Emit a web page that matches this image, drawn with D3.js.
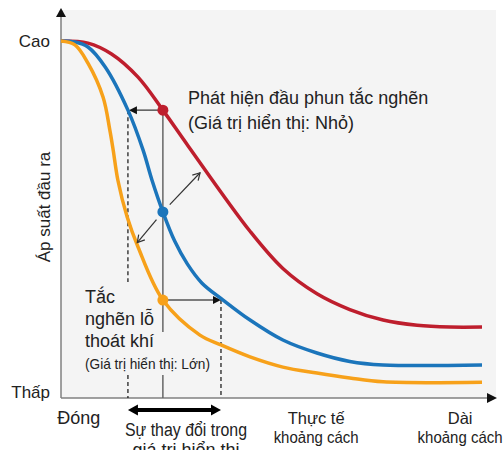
<!DOCTYPE html>
<html>
<head>
<meta charset="utf-8">
<title></title>
<style>
    body { margin: 0; background: #fff; }
    svg text { font-family: "Liberation Sans", Arial, sans-serif; fill: #222; }
</style>
</head>
<body>
<script src="https://cdnjs.cloudflare.com/ajax/libs/d3/7.8.5/d3.min.js"></script>
<script>

var w = 504;
var h = 450;

// curves: distance (0 = closed, 100 = long) vs output pressure (0 = low, 100 = high)
var redX    = [0, 6.4, 12.0, 18.3, 24.2, 30.2, 44.9, 52.7, 60.8, 68.6, 76.5, 84.6, 92.4, 100];
var redY    = [100, 99.4, 96.3, 89.7, 80.3, 70.1, 45.8, 35.2, 28.0, 23.5, 20.5, 19.0, 18.5, 18.5];
var blueX   = [0, 3.3, 6.4, 10.5, 15.9, 19.5, 21.6, 24.2, 27.0, 30.0, 33.5, 38.5, 44.9, 52.7, 60.8, 68.6, 76.5, 100];
var blueY   = [100, 99.7, 98.3, 92.6, 80.3, 68.9, 60.4, 51.3, 43.0, 36.5, 31.0, 26.2, 20.5, 14.8, 11.1, 8.7, 7.7, 7.7];
var orangeX = [0, 3.3, 6.4, 10.0, 11.6, 12.4, 13.5, 15.7, 18.3, 24.2, 33.0, 38.0, 44.9, 52.7, 60.8, 68.6, 76.5, 100];
var orangeY = [100, 98.9, 93.7, 84.0, 74.6, 68.9, 60.4, 49.9, 41.3, 26.2, 16.2, 13.4, 10.0, 7.1, 5.4, 4.0, 2.9, 2.8];

var markerX = 24.2;   // actual distance
var leftX = 15.9;     // blue reaches red's reading
var rightX = 38.0;    // blue reaches orange's reading

var yTickValues = [0, 100];
var yTickLabels = ["Thấp", "Cao"];
var xTickValues = [4.2, 60.6, 94.8];
var xTickLabels = [["Đóng"], ["Thực tế", "khoảng cách"], ["Dài", "khoảng cách"]];

var colors = { red: "#be1e2d", blue: "#1b75bb", orange: "#f7a11a" };

var xScale = d3.scaleLinear().domain([0, 100]).range([61, 482]);
var yScale = d3.scaleLinear().domain([0, 100]).range([392, 41]);

var svg = d3.select("body").append("svg")
    .attr("width", w)
    .attr("height", h);

// plot background
svg.append("rect")
    .attr("x", 61).attr("y", 10)
    .attr("width", 435).attr("height", 388)
    .attr("fill", "#f4f4f4");

// axes
svg.append("line")
    .attr("x1", 61).attr("y1", 398).attr("x2", 61).attr("y2", 14)
    .attr("stroke", "#808080").attr("stroke-width", 1.5);
svg.append("path")
    .attr("d", "M61,8 L66,17 L56,17 Z")
    .attr("fill", "#111");
svg.append("line")
    .attr("x1", 61).attr("y1", 398).attr("x2", 490).attr("y2", 398)
    .attr("stroke", "#808080").attr("stroke-width", 1.5);
svg.append("path")
    .attr("d", "M497,398 L487,393 L487,403 Z")
    .attr("fill", "#111");

// guide lines (gaps where the label block sits)
var guide = svg.append("g");
guide.append("line")
    .attr("x1", xScale(markerX)).attr("x2", xScale(markerX))
    .attr("y1", yScale(80.3)).attr("y2", 332)
    .attr("stroke", "#666").attr("stroke-width", 1.5);
guide.append("line")
    .attr("x1", xScale(markerX)).attr("x2", xScale(markerX))
    .attr("y1", 375).attr("y2", 398)
    .attr("stroke", "#666").attr("stroke-width", 1.5);

[[yScale(80.3), 282], [375, 398]].forEach(function(seg) {
    guide.append("line")
        .attr("x1", xScale(leftX)).attr("x2", xScale(leftX))
        .attr("y1", seg[0]).attr("y2", seg[1])
        .attr("stroke", "#111").attr("stroke-width", 1.2)
        .attr("stroke-dasharray", "4,3");
});
guide.append("line")
    .attr("x1", xScale(rightX)).attr("x2", xScale(rightX))
    .attr("y1", yScale(26.2)).attr("y2", 398)
    .attr("stroke", "#111").attr("stroke-width", 1.2)
    .attr("stroke-dasharray", "4,3");

// horizontal arrows
function hArrow(x1, x2, y) {
    var dir = x2 > x1 ? 1 : -1;
    guide.append("line")
        .attr("x1", x1).attr("x2", x2 - dir * 6).attr("y1", y).attr("y2", y)
        .attr("stroke", "#555").attr("stroke-width", 1.5);
    guide.append("path")
        .attr("d", "M" + x2 + "," + y + " L" + (x2 - dir * 8) + "," + (y - 4) + " L" + (x2 - dir * 8) + "," + (y + 4) + " Z")
        .attr("fill", "#111");
}
hArrow(xScale(markerX), xScale(leftX) + 1, yScale(80.3));
hArrow(xScale(markerX), xScale(rightX), yScale(26.2));

// curves
var line = d3.line()
    .x(function(d) { return xScale(d[0]); })
    .y(function(d) { return yScale(d[1]); })
    .curve(d3.curveCatmullRom.alpha(0.5));

var series = [
    { name: "red", xs: redX, ys: redY },
    { name: "blue", xs: blueX, ys: blueY },
    { name: "orange", xs: orangeX, ys: orangeY }
];

svg.selectAll("path.curve")
    .data(series)
    .enter()
    .append("path")
    .attr("class", "curve")
    .attr("d", function(s) { return line(d3.zip(s.xs, s.ys)); })
    .attr("fill", "none")
    .attr("stroke", function(s) { return colors[s.name]; })
    .attr("stroke-width", 3.5);

// markers at the actual distance
var dots = [
    { name: "red", y: 80.3 },
    { name: "blue", y: 51.3 },
    { name: "orange", y: 26.2 }
];
svg.selectAll("circle")
    .data(dots)
    .enter()
    .append("circle")
    .attr("cx", xScale(markerX))
    .attr("cy", function(d) { return yScale(d.y); })
    .attr("r", 5.5)
    .attr("fill", function(d) { return colors[d.name]; });

// diagonal double arrow through blue dot
var bx = xScale(markerX), by = yScale(51.3);
function openArrow(dx, dy, len) {
    var n = Math.sqrt(dx * dx + dy * dy);
    var ux = dx / n, uy = dy / n;
    var x1 = bx + ux * 10, y1 = by + uy * 10;
    var x2 = bx + ux * len, y2 = by + uy * len;
    svg.append("line")
        .attr("x1", x1).attr("y1", y1).attr("x2", x2).attr("y2", y2)
        .attr("stroke", "#333").attr("stroke-width", 1.2);
    var px = -uy, py = ux;
    svg.append("path")
        .attr("d", "M" + (x2 - ux * 7 + px * 4) + "," + (y2 - uy * 7 + py * 4) +
                   " L" + x2 + "," + y2 +
                   " L" + (x2 - ux * 7 - px * 4) + "," + (y2 - uy * 7 - py * 4))
        .attr("fill", "none").attr("stroke", "#333").attr("stroke-width", 1.2);
}
openArrow(37, -39, 54);
openArrow(-25, 30, 40);

// thick double arrow below axis
var ax1 = xScale(leftX), ax2 = xScale(rightX), ay = 410;
svg.append("line")
    .attr("x1", ax1 + 8).attr("x2", ax2 - 8).attr("y1", ay).attr("y2", ay)
    .attr("stroke", "#000").attr("stroke-width", 4);
svg.append("path")
    .attr("d", "M" + ax1 + "," + ay + " L" + (ax1 + 10) + "," + (ay - 5.5) + " L" + (ax1 + 10) + "," + (ay + 5.5) + " Z")
    .attr("fill", "#000");
svg.append("path")
    .attr("d", "M" + ax2 + "," + ay + " L" + (ax2 - 10) + "," + (ay - 5.5) + " L" + (ax2 - 10) + "," + (ay + 5.5) + " Z")
    .attr("fill", "#000");

// tick labels
svg.selectAll("text.ytick")
    .data(yTickValues)
    .enter()
    .append("text")
    .attr("class", "ytick")
    .attr("x", 50)
    .attr("y", function(d) { return yScale(d) + 6; })
    .attr("text-anchor", "end")
    .attr("font-size", "17px")
    .text(function(d, i) { return yTickLabels[i]; });

var xt = svg.selectAll("text.xtick")
    .data(xTickValues)
    .enter()
    .append("text")
    .attr("class", "xtick")
    .attr("text-anchor", "middle")
    .attr("font-size", function(d, i) { return i == 0 ? "18px" : "16.5px"; })
    .attr("transform", function(d) { return "translate(" + xScale(d) + ",0)"; });
xt.each(function(d, i) {
    var lines = xTickLabels[i];
    var t = d3.select(this);
    lines.forEach(function(s, k) {
        var ts = t.append("tspan")
            .attr("x", 0)
            .attr("y", i == 0 ? 424 : 424 + k * 19)
            .text(s);
        if (i > 0 && k == 1) ts.attr("textLength", 85).attr("lengthAdjust", "spacingAndGlyphs");
    });
});

// y axis title
svg.append("text")
    .attr("transform", "translate(50,207) rotate(-90)")
    .attr("text-anchor", "middle")
    .attr("font-size", "17px")
    .text("Áp suất đầu ra");

// annotations
var note1 = svg.append("text").attr("font-size", "18px");
note1.append("tspan").attr("x", 188).attr("y", 104).text("Phát hiện đầu phun tắc nghẽn");
note1.append("tspan").attr("x", 188).attr("y", 129).text("(Giá trị hiển thị: Nhỏ)");

var note2 = svg.append("text").attr("font-size", "18px");
note2.append("tspan").attr("x", 85).attr("y", 303).text("Tắc");
note2.append("tspan").attr("x", 85).attr("y", 325).text("nghẽn lỗ");
note2.append("tspan").attr("x", 85).attr("y", 347).text("thoát khí");
svg.append("text")
    .attr("x", 85).attr("y", 369)
    .attr("font-size", "15px")
    .attr("textLength", 125)
    .attr("lengthAdjust", "spacingAndGlyphs")
    .text("(Giá trị hiển thị: Lớn)");

var note3 = svg.append("text").attr("font-size", "18px").attr("text-anchor", "middle");
note3.append("tspan").attr("x", 186).attr("y", 436)
    .attr("textLength", 122).attr("lengthAdjust", "spacingAndGlyphs")
    .text("Sự thay đổi trong");
note3.append("tspan").attr("x", 186).attr("y", 456).text("giá trị hiển thị");

</script>
</body>
</html>
